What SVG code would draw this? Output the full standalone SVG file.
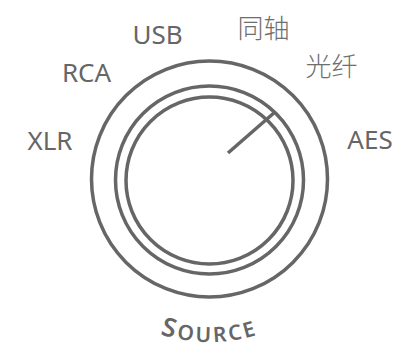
<svg xmlns="http://www.w3.org/2000/svg" width="394" height="343" viewBox="0 0 394 343">
<style>
.ring{fill:none;stroke:#666;stroke-width:3.5}
.lbl{font-family:"Noto Sans","Noto Sans CJK SC",sans-serif;font-size:26px;fill:#666;text-anchor:middle}
.cjk{font-family:"Noto Sans CJK SC","Noto Sans",sans-serif;font-weight:300;fill:#6e6e6e}
.title{font-family:"Noto Sans",sans-serif;font-weight:600;fill:#666;letter-spacing:2.5px}
</style>
<defs>
<path id="arc" d="M69.2,261 A162,162 0 0 0 349.8,261"/>
</defs>
<rect width="394" height="343" fill="#fff"/>
<g id="knob">
<circle class="ring" cx="209.5" cy="179" r="118"/>
<circle class="ring" cx="209.5" cy="180" r="94"/>
<circle class="ring" cx="209.5" cy="180.5" r="83.5"/>
</g>
<g id="connectors">
<line x1="228" y1="153" x2="275" y2="112" stroke="#666" stroke-width="3.5"/>
</g>
<g id="label-xlr"><text class="lbl" x="50" y="150">XLR</text></g>
<g id="label-rca"><text class="lbl" x="86.5" y="82">RCA</text></g>
<g id="label-usb"><text class="lbl" x="157.5" y="44">USB</text></g>
<g id="label-coax"><text class="lbl cjk" x="263.5" y="38">同轴</text></g>
<g id="label-optical"><text class="lbl cjk" x="331.5" y="76">光纤</text></g>
<g id="label-aes"><text class="lbl" x="370" y="149">AES</text></g>
<g id="title"><text class="title" text-anchor="middle"><textPath href="#arc" startOffset="50%"><tspan font-size="26">S</tspan><tspan font-size="21">OURCE</tspan></textPath></text></g>
</svg>
